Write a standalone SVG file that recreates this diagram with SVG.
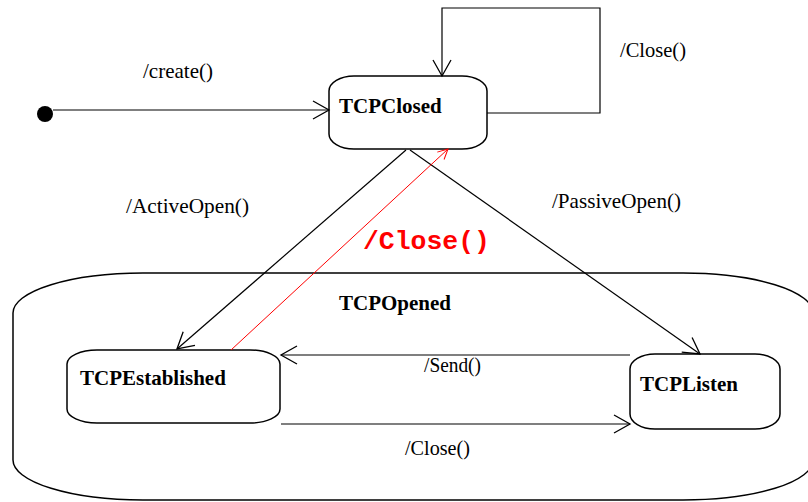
<svg xmlns="http://www.w3.org/2000/svg" width="808" height="502" viewBox="0 0 808 502">
<style>
.node{fill:#fff;stroke:#000;stroke-width:1.5}
.title{font-family:"Liberation Serif",serif;font-weight:bold;font-size:21px;fill:#000}
.lbl{font-family:"Liberation Serif",serif;font-size:21px;fill:#000}
.edge{fill:none;stroke:#000;stroke-width:1.2}
.red{fill:none;stroke:#ff0000;stroke-width:1}
.redlbl{font-family:"Liberation Mono",monospace;font-weight:bold;font-size:25px;fill:#ff0000}
</style>
<defs>
<marker id="open" viewBox="-18 -11 20 22" refX="0" refY="0" markerWidth="20" markerHeight="22" markerUnits="userSpaceOnUse" orient="auto">
<path d="M-16,-9 L0,0 L-16,9" fill="none" stroke="#000" stroke-width="1.3"/>
</marker>
<marker id="openred" viewBox="-12 -7 14 14" refX="0" refY="0" markerWidth="14" markerHeight="14" markerUnits="userSpaceOnUse" orient="auto">
<path d="M-10,-5 L0,0 L-10,5" fill="none" stroke="#ff0000" stroke-width="1"/>
</marker>
</defs>
<rect width="808" height="502" fill="#fff"/>
<g id="TCPOpened">
<rect class="node" x="13" y="273" width="800" height="227" rx="130" ry="40"/>
<text class="title" x="339" y="310">TCPOpened</text>
</g>
<g id="initial">
<circle cx="45" cy="114" r="8" fill="#000"/>
</g>
<g id="TCPClosed">
<rect class="node" x="329" y="76" width="158" height="73" rx="25" ry="15"/>
<text class="title" x="339" y="113">TCPClosed</text>
</g>
<g id="TCPEstablished">
<rect class="node" x="67" y="350" width="213" height="73" rx="30" ry="14"/>
<text class="title" x="80" y="385">TCPEstablished</text>
</g>
<g id="TCPListen">
<rect class="node" x="630" y="354" width="150" height="75" rx="25" ry="15"/>
<text class="title" x="640" y="391">TCPListen</text>
</g>
<g id="connectors">
<path class="edge" stroke-width="1.6" d="M53,110 L329,110" marker-end="url(#open)"/>
<path class="edge" stroke-width="1.6" d="M487,113 H600 V8 H442 V76" marker-end="url(#open)"/>
<path class="edge" d="M406,150 L177,349" marker-end="url(#open)"/>
<path class="edge" d="M410,150 L700,354" marker-end="url(#open)"/>
<path class="red" d="M231,350 L448,149" marker-end="url(#openred)"/>
<path class="edge" stroke-width="1.5" d="M630,355 L281,355" marker-end="url(#open)"/>
<path class="edge" stroke-width="1.5" d="M281,424 L630,424" marker-end="url(#open)"/>
</g>
<g id="labels">
<text class="lbl" x="143" y="78" textLength="70" lengthAdjust="spacingAndGlyphs">/create()</text>
<text class="lbl" x="620" y="57" textLength="66" lengthAdjust="spacingAndGlyphs">/Close()</text>
<text class="lbl" x="126" y="213" textLength="123" lengthAdjust="spacingAndGlyphs">/ActiveOpen()</text>
<text class="lbl" x="552" y="208" textLength="129" lengthAdjust="spacingAndGlyphs">/PassiveOpen()</text>
<text class="redlbl" x="363" y="249" textLength="127" lengthAdjust="spacingAndGlyphs">/Close()</text>
<text class="lbl" x="424" y="372" textLength="57" lengthAdjust="spacingAndGlyphs">/Send()</text>
<text class="lbl" x="405" y="455" textLength="65" lengthAdjust="spacingAndGlyphs">/Close()</text>
</g>
</svg>
